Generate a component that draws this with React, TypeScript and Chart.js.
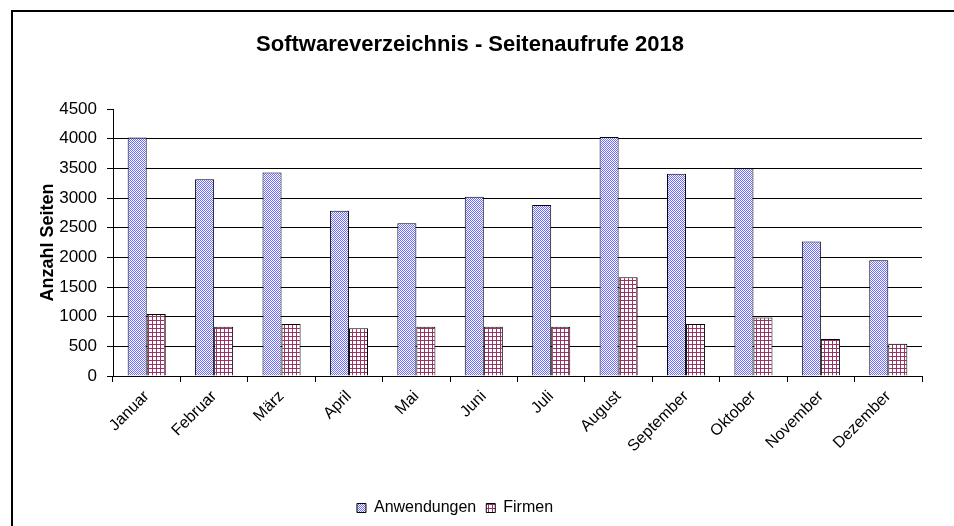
import React, { useEffect, useRef } from "react";
import { Chart, registerables } from "chart.js";

Chart.register(...registerables);

const chartTitle = "Softwareverzeichnis - Seitenaufrufe 2018";
const yAxisTitle = "Anzahl Seiten";
const seriesNames = ["Anwendungen", "Firmen"];
const categories = [
  "Januar", "Februar", "März", "April", "Mai", "Juni",
  "Juli", "August", "September", "Oktober", "November", "Dezember",
];
const anwendungen = [4020, 3315, 3430, 2785, 2575, 3020, 2880, 4030, 3410, 3500, 2265, 1950];
const firmen = [1045, 830, 875, 805, 830, 830, 830, 1665, 875, 985, 625, 545];
const yMin = 0;
const yMax = 4500;
const yStep = 500;

const FONT = "'Liberation Sans', Arial, sans-serif";

function makeChecker(): CanvasPattern | string {
  const c = document.createElement("canvas");
  c.width = 2;
  c.height = 2;
  const g = c.getContext("2d");
  if (!g) return "#9999ff";
  g.fillStyle = "#ffffff";
  g.fillRect(0, 0, 2, 2);
  g.fillStyle = "#6b6bff";
  g.fillRect(0, 0, 1, 1);
  g.fillRect(1, 1, 1, 1);
  return g.createPattern(c, "repeat") || "#9999ff";
}

function makeGrid(): CanvasPattern | string {
  const c = document.createElement("canvas");
  c.width = 4;
  c.height = 4;
  const g = c.getContext("2d");
  if (!g) return "#993366";
  g.fillStyle = "#ffffff";
  g.fillRect(0, 0, 4, 4);
  g.fillStyle = "#993366";
  g.fillRect(0, 0, 4, 1);
  g.fillRect(0, 0, 1, 4);
  return g.createPattern(c, "repeat") || "#993366";
}

const framePlugin = {
  id: "frame",
  beforeDraw(chart: any) {
    const ctx = chart.ctx;
    ctx.save();
    ctx.fillStyle = "#ffffff";
    ctx.fillRect(0, 0, chart.width, chart.height);
    ctx.strokeStyle = "#000000";
    ctx.lineWidth = 2;
    ctx.beginPath();
    ctx.moveTo(12, chart.height);
    ctx.lineTo(12, 11);
    ctx.lineTo(chart.width, 11);
    ctx.stroke();
    ctx.restore();
  },
};

const shiftPlugin = {
  id: "shiftBlocks",
  afterLayout(chart: any) {
    const t = chart.titleBlock;
    if (t) {
      const d = 470 - (t.left + t.right) / 2;
      t.left += d;
      t.right += d;
    }
    const l = chart.legend;
    if (l) {
      const d = 455 - (l.left + l.right) / 2;
      l.left += d;
      l.right += d;
    }
  },
};

export default function App() {
  const ref = useRef<HTMLCanvasElement | null>(null);

  useEffect(() => {
    if (!ref.current) return;
    const chart = new Chart(ref.current, {
      type: "bar",
      data: {
        labels: categories,
        datasets: [
          {
            label: seriesNames[0],
            data: anwendungen,
            backgroundColor: makeChecker() as any,
            borderColor: "#000000",
            borderWidth: 1,
          },
          {
            label: seriesNames[1],
            data: firmen,
            backgroundColor: makeGrid() as any,
            borderColor: "#000000",
            borderWidth: 1,
          },
        ],
      },
      options: {
        responsive: false,
        animation: false,
        events: [],
        datasets: {
          bar: { categoryPercentage: 0.565, barPercentage: 1 },
        },
        layout: { padding: { left: 0, right: 32, top: 0, bottom: 0 } },
        plugins: {
          title: {
            display: true,
            text: chartTitle,
            color: "#000000",
            font: { family: FONT, size: 22, weight: "bold" },
            padding: { top: 32, bottom: 50.6 },
          },
          legend: {
            position: "bottom",
            labels: {
              boxWidth: 9,
              boxHeight: 9,
              padding: 10,
              color: "#000000",
              font: { family: FONT, size: 16 },
            },
          },
          tooltip: { enabled: false },
        },
        scales: {
          x: {
            grid: {
              display: true,
              drawOnChartArea: false,
              offset: true,
              tickLength: 6,
              color: "#000000",
            },
            border: { display: true, color: "#000000" },
            ticks: {
              minRotation: 45,
              maxRotation: 45,
              padding: 5,
              color: "#000000",
              font: { family: FONT, size: 16 },
            },
            afterFit: (s: any) => {
              const lh = s.chart.legend ? s.chart.legend.height : 0;
              s.height = 526 - lh - 376;
            },
          },
          y: {
            min: yMin,
            max: yMax,
            ticks: {
              stepSize: yStep,
              padding: 10,
              color: "#000000",
              font: { family: FONT, size: 17 },
              callback: (v: any) => String(v),
            },
            grid: {
              color: (c: any) => (c.tick && c.tick.value === yMax ? "rgba(0,0,0,0)" : "#000000"),
              tickColor: "#000000",
              tickLength: 6,
            },
            border: { display: true, color: "#000000" },
            title: {
              display: true,
              text: yAxisTitle,
              color: "#000000",
              font: { family: FONT, size: 18, weight: "bold" },
              padding: { top: 37, bottom: 0 },
            },
            afterFit: (s: any) => {
              s.width = 113;
            },
          },
        },
      } as any,
      plugins: [framePlugin, shiftPlugin],
    });
    return () => chart.destroy();
  }, []);

  return (
    <div style={{ position: "fixed", left: 0, top: 0, width: 954, height: 526, background: "#fff" }}>
      <canvas ref={ref} width={954} height={526} style={{ display: "block" }} />
    </div>
  );
}
